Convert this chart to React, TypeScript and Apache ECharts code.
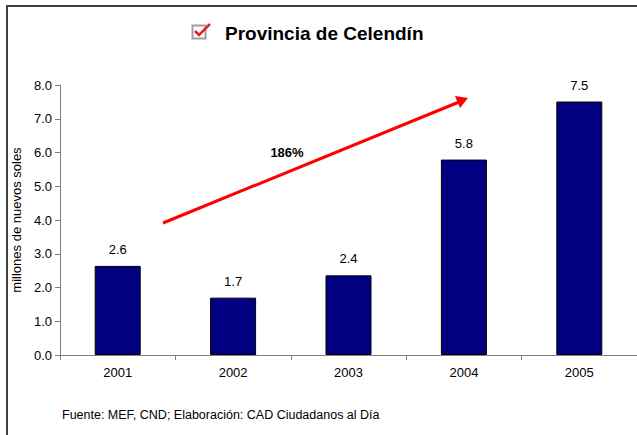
import React, { useEffect, useRef } from "react";
import * as echarts from "echarts";

const years = ["2001", "2002", "2003", "2004", "2005"];
const values = [2.64, 1.7, 2.36, 5.79, 7.51];
const yTicks = { min: 0, max: 8, interval: 1 };
const titleText = "Provincia de Celendín";
const yName = "millones de nuevos soles";
const growthLabel = "186%";
const sourceText = "Fuente: MEF, CND; Elaboración: CAD Ciudadanos al Día";

export default function App() {
  const ref = useRef<HTMLDivElement>(null);
  useEffect(() => {
    const chart = echarts.init(ref.current!, undefined, { renderer: "svg" });
    const font = "Arial, 'Liberation Sans', sans-serif";
    chart.setOption({
      animation: false,
      backgroundColor: "#ffffff",
      textStyle: { fontFamily: font },
      grid: { left: 60, right: 0, top: 85, bottom: 80 },
      xAxis: {
        type: "category",
        data: years,
        axisLine: { lineStyle: { color: "#808080", width: 1 } },
        axisTick: { show: true, length: 5, lineStyle: { color: "#808080" } },
        axisLabel: { color: "#000", fontSize: 13, margin: 11, fontFamily: font },
      },
      yAxis: {
        type: "value",
        min: yTicks.min,
        max: yTicks.max,
        interval: yTicks.interval,
        name: yName,
        nameLocation: "middle",
        nameGap: 33,
        nameRotate: 90,
        nameTextStyle: { color: "#000", fontSize: 13, fontFamily: font },
        axisLine: { show: true, lineStyle: { color: "#808080", width: 1 } },
        axisTick: { show: true, length: 5, lineStyle: { color: "#808080" } },
        splitLine: { show: false },
        axisLabel: {
          color: "#000",
          fontSize: 13,
          margin: 8,
          fontFamily: font,
          formatter: (v: number) => v.toFixed(1),
        },
      },
      series: [
        {
          type: "bar",
          data: values,
          barWidth: 46,
          itemStyle: { color: "#000080", borderColor: "#000000", borderWidth: 1 },
          label: {
            show: true,
            position: "top",
            distance: 10,
            color: "#000",
            fontSize: 13,
            fontFamily: font,
            formatter: (p: any) => Number(p.value).toFixed(1),
          },
        },
      ],
      graphic: [
        {
          type: "rect",
          shape: { x: 7, y: 6, width: 700, height: 500 },
          style: { fill: "none", stroke: "#404040", lineWidth: 2 },
          silent: true,
        },
        {
          type: "rect",
          shape: { x: 192.5, y: 25.5, width: 13, height: 13 },
          style: { fill: "#ffffff", stroke: "#a0a0a0", lineWidth: 2 },
        },
        {
          type: "polyline",
          shape: { points: [[195, 31], [199, 35], [210, 24]] },
          style: { fill: "none", stroke: "#ee1c25", lineWidth: 2.5 },
        },
        {
          type: "text",
          x: 225,
          y: 33,
          style: {
            text: titleText,
            fontSize: 19,
            fontWeight: "bold",
            fontFamily: font,
            fill: "#000",
            textVerticalAlign: "middle",
          },
        },
        {
          type: "line",
          shape: { x1: 163, y1: 223, x2: 459, y2: 102 },
          style: { stroke: "#ff0000", lineWidth: 3 },
        },
        {
          type: "polygon",
          shape: { points: [[468, 98], [455, 96], [460, 108]] },
          style: { fill: "#ff0000" },
        },
        {
          type: "text",
          x: 287,
          y: 152,
          style: {
            text: growthLabel,
            fontSize: 13,
            fontWeight: "bold",
            fontFamily: font,
            fill: "#000",
            textAlign: "center",
            textVerticalAlign: "middle",
          },
        },
        {
          type: "text",
          x: 62,
          y: 415,
          style: {
            text: sourceText,
            fontSize: 12.5,
            fontFamily: font,
            fill: "#000",
            textVerticalAlign: "middle",
          },
        },
      ],
    });
    return () => chart.dispose();
  }, []);
  return (
    <div
      ref={ref}
      style={{ position: "fixed", left: 0, top: 0, width: 637, height: 435, background: "#fff" }}
    />
  );
}
